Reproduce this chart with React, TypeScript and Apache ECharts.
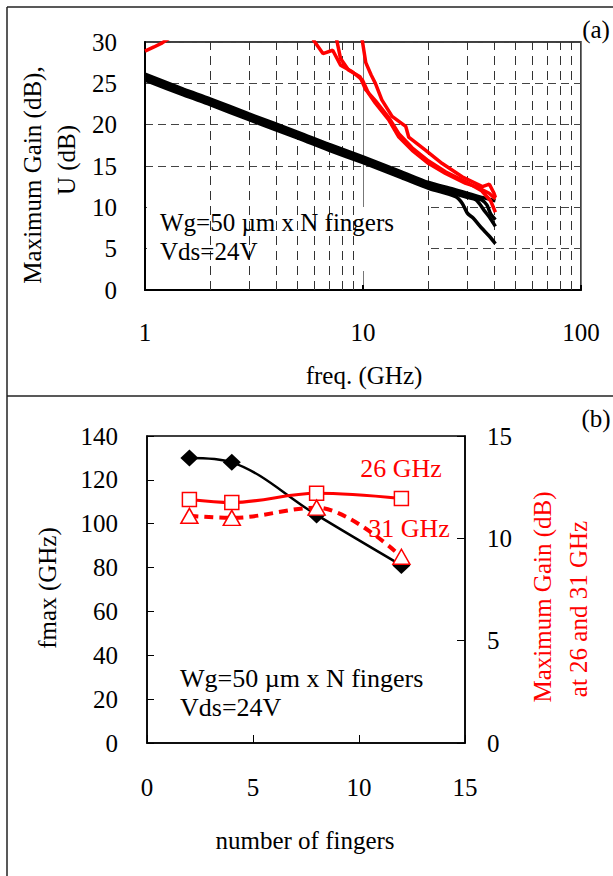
import React, { useEffect, useRef } from "react";
import * as echarts from "echarts";

const FONT = "'Liberation Serif', 'Times New Roman', Times, serif";
const RED = "#ff0000";

// ---------- (a) Maximum gain (black) and U (red) vs frequency ----------
const MSG1_F = [1, 1.5, 2, 3, 5, 7, 10, 15, 20, 26, 30, 35, 40.5];
const MSG1_V = [26.1, 24.3, 23.1, 21.3, 19.1, 17.6, 16.1, 14.3, 13.0, 12.2, 11.7, 11.2, 10.8];
const MSG2_F = [1, 1.5, 2, 3, 5, 7, 10, 15, 20, 26, 30, 35, 37, 38.5, 40.5];
const MSG2_V = [25.8, 24.0, 22.8, 21.0, 18.8, 17.3, 15.8, 14.0, 12.7, 11.9, 11.4, 10.9, 10.3, 9.2, 8.5];
const MSG3_F = [1, 1.5, 2, 3, 5, 7, 10, 15, 20, 26, 30, 33, 36, 38.5, 40.5];
const MSG3_V = [25.6, 23.8, 22.6, 20.8, 18.6, 17.1, 15.6, 13.8, 12.5, 11.7, 11.2, 10.9, 9.6, 8.6, 7.7];
const MSG4_F = [1, 1.5, 2, 3, 5, 7, 10, 15, 20, 26.6, 28.5, 30.1, 32, 35, 38, 40.5];
const MSG4_V = [25.4, 23.6, 22.4, 20.6, 18.4, 16.9, 15.4, 13.6, 12.3, 11.3, 10.5, 9.3, 8.7, 7.5, 6.5, 5.6];

const U0_F = [1, 1.1, 1.2, 1.3];
const U0_V = [28.9, 29.4, 29.9, 30.5];
const U1_F = [5.9, 6.55, 7.26, 7.89, 8.93, 9.94, 10.6, 11.4, 13.1, 14.6, 16.8, 20.0, 23.9, 29.6, 33, 37.9, 40.5];
const U1_V = [30.3, 28.6, 29.0, 27.2, 26.4, 25.4, 23.8, 22.6, 20.6, 18.5, 16.9, 15.3, 14.1, 12.9, 12.5, 11.7, 11.0];
const U2_F = [7.57, 7.89, 8.58, 9.69, 10.3, 11.4, 13.1, 14.6, 16.8, 20.0, 23.9, 29.6, 35, 38.5, 40.5];
const U2_V = [30.3, 28.0, 26.6, 25.8, 24.2, 22.9, 20.9, 18.9, 17.2, 15.6, 14.3, 13.1, 12.0, 10.8, 9.4];
const U3_F = [9.91, 10.3, 10.9, 11.4, 12.2, 13.6, 15.7, 16.2, 19.4, 23.1, 28.5, 35.3, 38, 39.9, 40.5];
const U3_V = [30.3, 27.5, 26.0, 25.0, 23.0, 21.0, 19.8, 18.5, 16.9, 15.3, 13.7, 12.5, 12.8, 11.7, 11.2];

const MINOR_FREQS = [2, 3, 4, 5, 6, 7, 8, 9, 20, 30, 40, 50, 60, 70, 80, 90];

// ---------- (b) fmax and maximum gain vs number of fingers ----------
const FINGERS = [2, 4, 8, 12];
const FMAX = [130, 128, 104, 81];
const GAIN_26 = [11.9, 11.75, 12.2, 11.95];
const GAIN_31 = [11.1, 11.0, 11.5, 9.1];

const zip = (a: number[], b: number[]) => a.map((x, i) => [x, b[i]]);

const txt = (text: string, x: number, y: number, o: any = {}) => ({
  type: "text",
  x,
  y,
  rotation: o.rotation || 0,
  z: o.z ?? 6,
  style: {
    text,
    fill: o.color || "#000",
    font: `${o.size || 25}px ${FONT}`,
    textAlign: o.align || "center",
    textVerticalAlign: "middle",
    verticalAlign: "middle",
  },
});

const line = (x1: number, y1: number, x2: number, y2: number) => ({
  type: "line",
  shape: { x1, y1, x2, y2 },
  style: { stroke: "#222", lineWidth: 1.5 },
  z: 6,
});

export default function App() {
  const ref = useRef<HTMLDivElement>(null);
  useEffect(() => {
    if (!ref.current) return;
    const chart = echarts.init(ref.current, undefined, { renderer: "svg" });
    const label = { fontSize: 25, fontFamily: FONT, color: "#000" };
    const blackTop = (f: number[], v: number[]) => ({
      type: "line",
      xAxisIndex: 0,
      yAxisIndex: 0,
      data: zip(f, v),
      symbol: "none",
      showSymbol: false,
      smooth: 0.3,
      clip: true,
      z: 10,
      lineStyle: { color: "#000", width: 3.5 },
    });
    const redTop = (f: number[], v: number[]) => ({
      type: "line",
      xAxisIndex: 0,
      yAxisIndex: 0,
      data: zip(f, v),
      symbol: "none",
      showSymbol: false,
      clip: true,
      z: 11,
      lineStyle: { color: RED, width: 3.5 },
    });
    chart.setOption({
      animation: false,
      backgroundColor: "#fff",
      grid: [
        { left: 145, top: 42, width: 436, height: 248, show: true, borderColor: "#000", borderWidth: 1.5 },
        { left: 147, top: 436, width: 318, height: 307, show: true, borderColor: "#000", borderWidth: 1.5 },
      ],
      xAxis: [
        {
          gridIndex: 0,
          type: "log",
          logBase: 10,
          min: 1,
          max: 100,
          axisLine: { show: true, lineStyle: { color: "#000", width: 2 } },
          axisTick: { show: true, inside: true, length: 5, lineStyle: { color: "#000", width: 2 } },
          axisLabel: { ...label, margin: 30 },
          splitLine: { show: true, lineStyle: { color: "#777", width: 1, type: "solid" } },
          minorTick: { show: false },
        },
        {
          gridIndex: 1,
          type: "value",
          min: 0,
          max: 15,
          interval: 5,
          axisLine: { show: true, lineStyle: { color: "#000", width: 1.5 } },
          axisTick: { show: true, inside: true, length: 8, lineStyle: { color: "#000", width: 1 } },
          axisLabel: { ...label, margin: 32 },
          splitLine: { show: false },
        },
      ],
      yAxis: [
        {
          gridIndex: 0,
          type: "value",
          min: 0,
          max: 30,
          interval: 5,
          axisLine: { show: true, lineStyle: { color: "#000", width: 2 } },
          axisTick: { show: false },
          axisLabel: { ...label, margin: 28 },
          splitLine: { show: true, lineStyle: { color: "#444", width: 1, type: [8, 5] } },
        },
        {
          gridIndex: 1,
          type: "value",
          min: 0,
          max: 140,
          interval: 20,
          axisLine: { show: true, lineStyle: { color: "#000", width: 1.5 } },
          axisTick: { show: true, inside: true, length: 7, lineStyle: { color: "#000", width: 1 } },
          axisLabel: { ...label, margin: 29 },
          splitLine: { show: false },
        },
        {
          gridIndex: 1,
          type: "value",
          position: "right",
          min: 0,
          max: 15,
          interval: 5,
          axisLine: { show: true, lineStyle: { color: "#000", width: 1.5 } },
          axisTick: { show: true, inside: true, length: 8, lineStyle: { color: "#000", width: 1 } },
          axisLabel: { ...label, margin: 22 },
          splitLine: { show: false },
        },
      ],
      series: [
        {
          type: "line",
          xAxisIndex: 0,
          yAxisIndex: 0,
          data: [],
          z: 1,
          markLine: {
            silent: true,
            symbol: ["none", "none"],
            label: { show: false },
            lineStyle: { color: "#333", width: 1, type: [9, 6] },
            data: MINOR_FREQS.map((v) => ({ xAxis: v })),
          },
        },
        blackTop(MSG1_F, MSG1_V),
        blackTop(MSG2_F, MSG2_V),
        blackTop(MSG3_F, MSG3_V),
        blackTop(MSG4_F, MSG4_V),
        redTop(U0_F, U0_V),
        redTop(U1_F, U1_V),
        redTop(U2_F, U2_V),
        redTop(U3_F, U3_V),
        {
          type: "line",
          xAxisIndex: 1,
          yAxisIndex: 1,
          data: zip(FINGERS, FMAX),
          smooth: 0.35,
          symbol: "diamond",
          symbolSize: [18, 17],
          itemStyle: { color: "#000" },
          lineStyle: { color: "#000", width: 2.5 },
          z: 10,
        },
        {
          type: "line",
          xAxisIndex: 1,
          yAxisIndex: 2,
          data: zip(FINGERS, GAIN_26),
          smooth: 0.35,
          symbol: "rect",
          symbolSize: 14,
          itemStyle: { color: "#fff", borderColor: RED, borderWidth: 1.5 },
          lineStyle: { color: RED, width: 3 },
          z: 11,
        },
        {
          type: "line",
          xAxisIndex: 1,
          yAxisIndex: 2,
          data: zip(FINGERS, GAIN_31),
          smooth: 0.35,
          symbol: "triangle",
          symbolSize: [17, 15],
          itemStyle: { color: "#fff", borderColor: RED, borderWidth: 1.5 },
          lineStyle: { color: RED, width: 4, type: [9, 6] },
          z: 12,
        },
      ],
      graphic: [
        { type: "rect", shape: { x: 147, y: 207, width: 282, height: 64 }, style: { fill: "#fff" }, z: 5 },
        line(7, 7, 613, 7),
        line(7, 7, 7, 876),
        line(7, 396, 613, 396),
        txt("(a)", 596, 29),
        txt("(b)", 596, 418),
        txt("Maximum Gain (dB),", 32, 175, { rotation: Math.PI / 2 }),
        txt("U (dB)", 66, 160, { rotation: Math.PI / 2 }),
        txt("freq. (GHz)", 364, 375),
        txt("Wg=50 µm x N fingers", 160, 222, { align: "left" }),
        txt("Vds=24V", 160, 251, { align: "left" }),
        txt("fmax (GHz)", 47, 588, { rotation: Math.PI / 2 }),
        txt("Maximum Gain (dB)", 542, 597, { rotation: Math.PI / 2, color: RED }),
        txt("at 26 and 31 GHz", 578, 609, { rotation: Math.PI / 2, color: RED }),
        txt("number of fingers", 305, 840),
        txt("Wg=50 µm x N fingers", 180, 678, { align: "left", size: 26 }),
        txt("Vds=24V", 180, 707, { align: "left", size: 26 }),
        txt("26 GHz", 401, 468, { color: RED, size: 26 }),
        txt("31 GHz", 409, 528, { color: RED, size: 26 }),
      ],
    });
    return () => chart.dispose();
  }, []);
  return (
    <div
      ref={ref}
      style={{ position: "fixed", left: 0, top: 0, width: 613, height: 876, background: "#fff" }}
    />
  );
}
